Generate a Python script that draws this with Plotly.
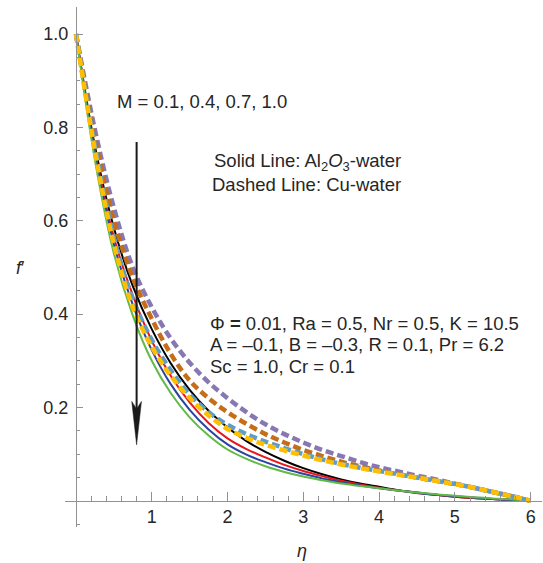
import plotly.graph_objects as go

# ---------------- data ----------------
eta = [0, 0.25, 0.5, 0.75, 1.0, 1.25, 1.5, 1.75, 2.0, 2.25, 2.5, 2.75, 3.0,
       3.25, 3.5, 3.75, 4.0, 4.25, 4.5, 4.75, 5.0, 5.25, 5.5, 5.75, 6.0]

# Solid lines: Al2O3-water, M = 0.1, 0.4, 0.7, 1.0
al_m01 = [1.0, 0.76, 0.585, 0.46, 0.368, 0.295, 0.238, 0.193, 0.157, 0.128, 0.105, 0.086, 0.070,
          0.057, 0.046, 0.037, 0.030, 0.023, 0.018, 0.013, 0.009, 0.006, 0.004, 0.002, 0.0]
al_m04 = [1.0, 0.75, 0.565, 0.44, 0.343, 0.268, 0.211, 0.167, 0.134, 0.111, 0.093, 0.077, 0.064,
          0.053, 0.043, 0.035, 0.028, 0.022, 0.017, 0.013, 0.009, 0.006, 0.004, 0.002, 0.0]
al_m07 = [1.0, 0.745, 0.55, 0.42, 0.323, 0.25, 0.195, 0.153, 0.121, 0.099, 0.083, 0.069, 0.058,
          0.048, 0.040, 0.033, 0.027, 0.022, 0.017, 0.013, 0.010, 0.007, 0.004, 0.002, 0.0]
al_m10 = [1.0, 0.73, 0.53, 0.397, 0.300, 0.231, 0.179, 0.140, 0.110, 0.090, 0.074, 0.062, 0.052,
          0.044, 0.037, 0.032, 0.027, 0.022, 0.018, 0.014, 0.011, 0.008, 0.005, 0.003, 0.0]

# Dashed lines: Cu-water, M = 0.1, 0.4, 0.7, 1.0
cu_m01 = [1.0, 0.795, 0.628, 0.50, 0.415, 0.348, 0.296, 0.254, 0.22, 0.19, 0.164, 0.143, 0.125,
          0.109, 0.096, 0.083, 0.072, 0.063, 0.054, 0.046, 0.037, 0.028, 0.019, 0.01, 0.0]
cu_m04 = [1.0, 0.777, 0.60, 0.478, 0.39, 0.315, 0.258, 0.22, 0.19, 0.165, 0.143, 0.125, 0.109,
          0.096, 0.084, 0.074, 0.065, 0.057, 0.05, 0.043, 0.036, 0.028, 0.019, 0.01, 0.0]
cu_m07 = [1.0, 0.76, 0.565, 0.432, 0.345, 0.28, 0.228, 0.19, 0.163, 0.143, 0.127, 0.113, 0.10,
          0.089, 0.079, 0.071, 0.064, 0.057, 0.05, 0.043, 0.036, 0.028, 0.019, 0.01, 0.0]
cu_m10 = [1.0, 0.75, 0.55, 0.415, 0.33, 0.268, 0.22, 0.183, 0.154, 0.135, 0.12, 0.108, 0.097,
          0.087, 0.078, 0.07, 0.063, 0.056, 0.05, 0.043, 0.036, 0.028, 0.019, 0.01, 0.0]

x_ticks = [1, 2, 3, 4, 5, 6]
x_tick_labels = ["1", "2", "3", "4", "5", "6"]
y_ticks = [0.2, 0.4, 0.6, 0.8, 1.0]
y_tick_labels = ["0.2", "0.4", "0.6", "0.8", "1.0"]

# ---------------- styling ----------------
X_RANGE = [-0.145, 6.15]
Y_RANGE = [-0.056, 1.058]
AXIS_COLOR = "#929292"
TEXT_COLOR = "#262626"
FONT = "Liberation Sans, Arial, Helvetica, sans-serif"
TXT = 18.5

solid = [(al_m01, "#000000"), (al_m04, "#e8161b"), (al_m07, "#2a44a0"), (al_m10, "#5fba46")]
dashed = [(cu_m01, "#8778b3"), (cu_m04, "#c56e1a"), (cu_m07, "#5d9ec7"), (cu_m10, "#ffbf00")]

fig = go.Figure()
for ys, col in solid:
    fig.add_trace(go.Scatter(x=eta, y=ys, mode="lines",
                             line=dict(color=col, width=2, shape="spline", smoothing=1.0),
                             showlegend=False, hoverinfo="skip"))
for ys, col in dashed:
    fig.add_trace(go.Scatter(x=eta, y=ys, mode="lines",
                             line=dict(color=col, width=4.5, dash="8px,4px", shape="spline", smoothing=1.0),
                             showlegend=False, hoverinfo="skip"))

x0_pos = (0 - Y_RANGE[0]) / (Y_RANGE[1] - Y_RANGE[0])
y0_pos = (0 - X_RANGE[0]) / (X_RANGE[1] - X_RANGE[0])

x_minor = [round(0.2 * i, 1) for i in range(1, 31) if i % 5 != 0]
y_minor = [round(0.05 * i, 2) for i in range(-1, 21) if i % 4 != 0]

fig.update_layout(
    width=543, height=563,
    margin=dict(l=65, r=1, t=7, b=36),
    paper_bgcolor="white", plot_bgcolor="white",
    font=dict(family=FONT, size=18, color=TEXT_COLOR),
    xaxis=dict(range=X_RANGE, showgrid=False, zeroline=False,
               showline=True, linecolor=AXIS_COLOR, linewidth=1,
               anchor="free", position=x0_pos,
               ticks="inside", ticklen=9, tickwidth=1, tickcolor=AXIS_COLOR,
               tickvals=x_ticks, ticktext=x_tick_labels,
               tickfont=dict(size=18, color=TEXT_COLOR),
               minor=dict(tickvals=x_minor, ticks="inside", ticklen=5, tickcolor=AXIS_COLOR, tickwidth=1)),
    yaxis=dict(range=Y_RANGE, showgrid=False, zeroline=False,
               showline=True, linecolor=AXIS_COLOR, linewidth=1,
               anchor="free", position=y0_pos,
               ticks="inside", ticklen=6, tickwidth=1, tickcolor=AXIS_COLOR,
               tickvals=y_ticks, ticktext=y_tick_labels, ticklabelstandoff=4,
               tickfont=dict(size=18, color=TEXT_COLOR),
               minor=dict(tickvals=y_minor, ticks="inside", ticklen=3.5, tickcolor=AXIS_COLOR, tickwidth=1)),
)

# Arrow (annotation graphic)
ARROW_X = 0.8
ARROW_TOP = 0.769
ARROW_TIP = 0.12
HEAD_BASE = 0.213
HEAD_NOTCH = 0.197
HEAD_HALF = 0.064
fig.add_shape(type="line", xref="x", yref="y", x0=ARROW_X, x1=ARROW_X, y0=ARROW_TOP, y1=HEAD_NOTCH,
              line=dict(color="#1a1a1a", width=2))
fig.add_shape(type="path", xref="x", yref="y",
              path=f"M {ARROW_X} {ARROW_TIP} L {ARROW_X - HEAD_HALF} {HEAD_BASE} L {ARROW_X} {HEAD_NOTCH} L {ARROW_X + HEAD_HALF} {HEAD_BASE} Z",
              fillcolor="#1a1a1a", line=dict(color="#1a1a1a", width=0.5))

def note(text, x, y, size=TXT):
    fig.add_annotation(x=x, y=y, xref="x", yref="y", text=text, showarrow=False,
                       xanchor="left", yanchor="middle", font=dict(size=size, color=TEXT_COLOR))

note("M = 0.1, 0.4, 0.7, 1.0", 0.515, 0.855)
note("Solid Line: Al<sub>2</sub><i>O</i><sub>3</sub>-water", 1.79, 0.727)
note("Dashed Line: Cu-water", 1.768, 0.677)
note("Φ <b>=</b> 0.01, Ra = 0.5, Nr = 0.5, K = 10.5", 1.741, 0.381)
note("A = –0.1, B = –0.3, R = 0.1, Pr = 6.2", 1.741, 0.334)
note("Sc = 1.0, Cr = 0.1", 1.741, 0.287)

# Axis titles
fig.add_annotation(x=(302 - 65) / 477, y=(527 - 551) / 520, xref="paper", yref="paper", text="<i>η</i>",
                   showarrow=False, xanchor="center", yanchor="middle", font=dict(size=18, color=TEXT_COLOR))
fig.add_annotation(x=(20 - 65) / 477, y=(527 - 268) / 520, xref="paper", yref="paper", text="<i>f</i>′",
                   showarrow=False, xanchor="center", yanchor="middle", font=dict(size=18, color=TEXT_COLOR))

fig.write_html("out.html")
